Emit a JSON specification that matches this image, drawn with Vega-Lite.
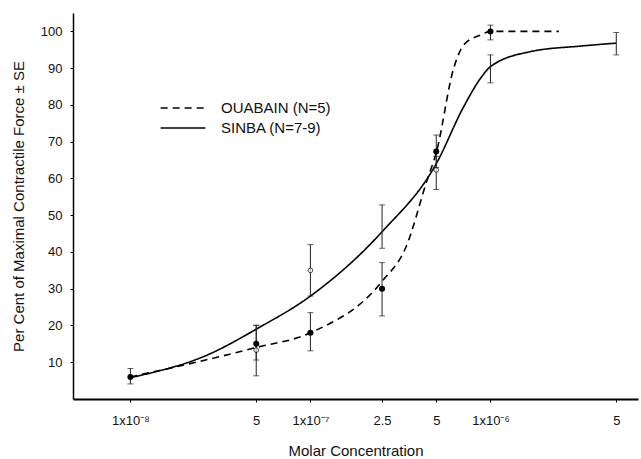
{
  "$schema": "https://vega.github.io/schema/vega-lite/v6.json",
  "width": 565,
  "height": 386,
  "autosize": {"type": "none"},
  "padding": {"left": 73, "top": 13, "right": 3, "bottom": 60},
  "background": "white",
  "config": {
    "view": {"stroke": null},
    "font": "Liberation Sans",
    "axis": {
      "grid": false,
      "domainColor": "#000",
      "tickColor": "#000",
      "labelColor": "#111",
      "titleColor": "#111",
      "labelFont": "Liberation Sans",
      "titleFont": "Liberation Sans",
      "titleFontWeight": "normal",
      "labelFontSize": 13,
      "titleFontSize": 15
    }
  },
  "datasets": {
    "curves": [
      {"conc": 1e-8, "pct": 6, "series": "OUABAIN (N=5)"},
      {"conc": 5e-8, "pct": 14, "series": "OUABAIN (N=5)"},
      {"conc": 1e-7, "pct": 18, "series": "OUABAIN (N=5)"},
      {"conc": 2.5e-7, "pct": 32, "series": "OUABAIN (N=5)"},
      {"conc": 3.4e-7, "pct": 41.4, "series": "OUABAIN (N=5)"},
      {"conc": 4.45e-7, "pct": 59.6, "series": "OUABAIN (N=5)"},
      {"conc": 5e-7, "pct": 67, "series": "OUABAIN (N=5)"},
      {"conc": 6.25e-7, "pct": 90, "series": "OUABAIN (N=5)"},
      {"conc": 7.1e-7, "pct": 96.3, "series": "OUABAIN (N=5)"},
      {"conc": 8.8e-7, "pct": 99, "series": "OUABAIN (N=5)"},
      {"conc": 1e-6, "pct": 100, "series": "OUABAIN (N=5)"},
      {"conc": 2.4e-6, "pct": 100, "series": "OUABAIN (N=5)"},
      {"conc": 1e-8, "pct": 5.8, "series": "SINBA (N=7-9)"},
      {"conc": 2.8e-8, "pct": 12.4, "series": "SINBA (N=7-9)"},
      {"conc": 5e-8, "pct": 19, "series": "SINBA (N=7-9)"},
      {"conc": 1e-7, "pct": 28, "series": "SINBA (N=7-9)"},
      {"conc": 2.5e-7, "pct": 45.5, "series": "SINBA (N=7-9)"},
      {"conc": 5e-7, "pct": 64, "series": "SINBA (N=7-9)"},
      {"conc": 7.1e-7, "pct": 79.5, "series": "SINBA (N=7-9)"},
      {"conc": 8.8e-7, "pct": 87.2, "series": "SINBA (N=7-9)"},
      {"conc": 1e-6, "pct": 90.4, "series": "SINBA (N=7-9)"},
      {"conc": 1.67e-6, "pct": 94.5, "series": "SINBA (N=7-9)"},
      {"conc": 3.16e-6, "pct": 96, "series": "SINBA (N=7-9)"},
      {"conc": 5e-6, "pct": 96.8, "series": "SINBA (N=7-9)"}
    ],
    "obs": [
      {"conc": 1e-8, "pct": 6, "lo": 4.1, "hi": 8.3, "series": "OUABAIN (N=5)"},
      {"conc": 5e-8, "pct": 15, "lo": 10.6, "hi": 20.1, "series": "OUABAIN (N=5)"},
      {"conc": 1e-7, "pct": 18, "lo": 13.1, "hi": 23.5, "series": "OUABAIN (N=5)"},
      {"conc": 2.5e-7, "pct": 30, "lo": 22.6, "hi": 37.1, "series": "OUABAIN (N=5)"},
      {"conc": 5e-7, "pct": 67.3, "lo": 63, "hi": 71.8, "series": "OUABAIN (N=5)"},
      {"conc": 1e-6, "pct": 100, "lo": 97.7, "hi": 101.7, "series": "OUABAIN (N=5)"},
      {"conc": 5e-8, "pct": 13.3, "lo": 6.3, "hi": 20, "series": "SINBA (N=7-9)"},
      {"conc": 1e-7, "pct": 35, "lo": 28, "hi": 42, "series": "SINBA (N=7-9)"},
      {"conc": 2.5e-7, "pct": 47, "lo": 41, "hi": 52.8, "series": "SINBA (N=7-9)"},
      {"conc": 5e-7, "pct": 62.3, "lo": 57, "hi": 66, "series": "SINBA (N=7-9)"},
      {"conc": 1e-6, "pct": 90, "lo": 86, "hi": 93.6, "series": "SINBA (N=7-9)"},
      {"conc": 5e-6, "pct": 97, "lo": 93.6, "hi": 99.7, "series": "SINBA (N=7-9)"}
    ]
  },
  "layer": [
    {
      "data": {"name": "curves"},
      "mark": {"type": "line", "interpolate": "monotone", "color": "#000", "strokeWidth": 1.6},
      "encoding": {
        "x": {
          "field": "conc", "type": "quantitative",
          "scale": {"type": "log", "domain": [4.8e-9, 6.6e-6], "nice": false},
          "axis": {
            "title": "Molar Concentration",
            "values": [1e-8, 5e-8, 1e-7, 2.5e-7, 5e-7, 1e-6, 5e-6],
            "labelExpr": "datum.value < 2e-8 ? '1x10⁻⁸' : datum.value < 7e-8 ? '5' : datum.value < 1.5e-7 ? '1x10⁻⁷' : datum.value < 3e-7 ? '2.5' : datum.value < 7e-7 ? '5' : datum.value < 1.5e-6 ? '1x10⁻⁶' : '5'",
            "domainWidth": 2,
            "tickSize": 3,
            "labelPadding": 12,
            "titlePadding": 16,
            "labelFlush": false
          }
        },
        "y": {
          "field": "pct", "type": "quantitative",
          "scale": {"domain": [0, 105], "nice": false},
          "axis": {
            "title": "Per Cent of Maximal Contractile Force ± SE",
            "values": [10, 20, 30, 40, 50, 60, 70, 80, 90, 100],
            "domainWidth": 1.5,
            "tickSize": 3,
            "labelPadding": 8,
            "titlePadding": 14
          }
        },
        "strokeDash": {
          "field": "series", "type": "nominal",
          "scale": {"domain": ["OUABAIN (N=5)", "SINBA (N=7-9)"], "range": [[7, 5], [1, 0]]},
          "legend": {
            "title": null,
            "orient": "none",
            "legendX": 98,
            "legendY": 83,
            "symbolType": "M-2,0H2",
            "symbolSize": 500,
            "symbolStrokeColor": "#000",
            "symbolStrokeWidth": 1.6,
            "labelFontSize": 15,
            "labelColor": "#111",
            "labelOffset": 26,
            "rowPadding": 0
          }
        }
      }
    },
    {
      "data": {"name": "obs"},
      "mark": {"type": "errorbar", "ticks": {"size": 6}, "thickness": 1, "color": "#222"},
      "encoding": {
        "x": {"field": "conc", "type": "quantitative"},
        "y": {"field": "lo", "type": "quantitative", "title": "Per Cent of Maximal Contractile Force ± SE"},
        "y2": {"field": "hi"}
      }
    },
    {
      "data": {"name": "obs"},
      "transform": [{"filter": "datum.series == 'SINBA (N=7-9)' && datum.conc < 8e-7 && (datum.conc < 2e-7 || datum.conc > 3e-7)"}],
      "mark": {"type": "point", "shape": "circle", "filled": false, "fill": "white", "stroke": "#000", "strokeWidth": 1, "size": 22},
      "encoding": {
        "x": {"field": "conc", "type": "quantitative"},
        "y": {"field": "pct", "type": "quantitative"}
      }
    },
    {
      "data": {"name": "obs"},
      "transform": [{"filter": "datum.series == 'OUABAIN (N=5)'"}],
      "mark": {"type": "point", "shape": "circle", "filled": true, "color": "#000", "opacity": 1, "size": 36},
      "encoding": {
        "x": {"field": "conc", "type": "quantitative"},
        "y": {"field": "pct", "type": "quantitative"}
      }
    }
  ]
}
